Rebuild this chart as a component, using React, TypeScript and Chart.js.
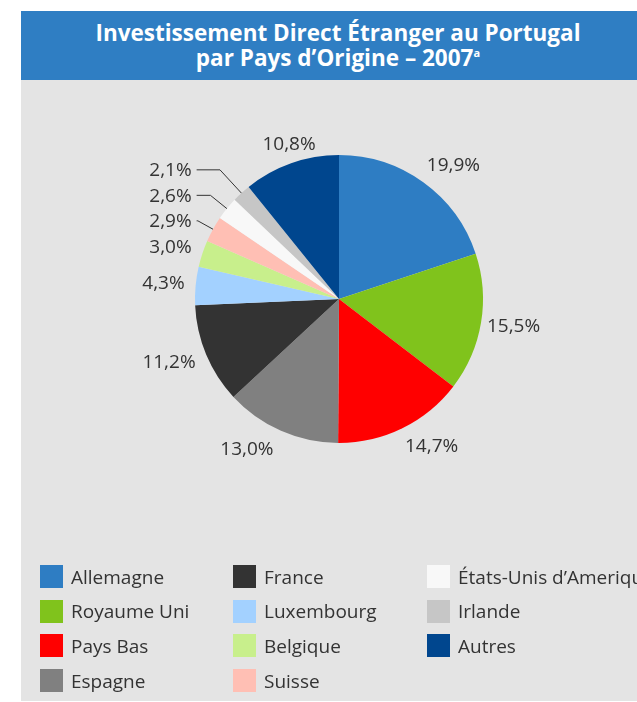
import React, { useEffect, useRef } from 'react';
import { Chart, registerables } from 'chart.js';

Chart.register(...registerables);

const categories = [
  'Allemagne',
  'Royaume Uni',
  'Pays Bas',
  'Espagne',
  'France',
  'Luxembourg',
  'Belgique',
  'Suisse',
  'États-Unis d’Amerique',
  'Irlande',
  'Autres',
];
const shares = [19.9, 15.5, 14.7, 13.0, 11.2, 4.3, 3.0, 2.9, 2.6, 2.1, 10.8];
const sliceColors = [
  '#2e7dc3',
  '#80c31c',
  '#ff0000',
  '#808080',
  '#333333',
  '#a3d1ff',
  '#c8ef8c',
  '#ffbfb4',
  '#f8f8f8',
  '#c6c6c6',
  '#00468e',
];
const leaderLabelled = ['Suisse', 'États-Unis d’Amerique', 'Irlande'];
const titleLine1 = 'Investissement Direct Étranger au Portugal';
const titleLine2 = 'par Pays d’Origine – 2007';
const titleNote = 'a';

const fmt = (v: number) => v.toFixed(1).replace('.', ',') + '%';

const labelPlugin = {
  id: 'sliceLabels',
  afterDatasetsDraw(chart: any) {
    const ctx = chart.ctx as CanvasRenderingContext2D;
    const meta = chart.getDatasetMeta(0);
    ctx.save();
    ctx.font = '19px "Open Sans"';
    ctx.fillStyle = '#333333';
    ctx.strokeStyle = '#333333';
    ctx.lineWidth = 1;
    ctx.textBaseline = 'middle';
    let prev: { right: number; y: number } | null = null;
    meta.data.forEach((arc: any, i: number) => {
      const { x, y, startAngle, endAngle, outerRadius } = arc.getProps(
        ['x', 'y', 'startAngle', 'endAngle', 'outerRadius'],
        true
      );
      const mid = (startAngle + endAngle) / 2;
      const c = Math.cos(mid);
      const s = Math.sin(mid);
      const text = fmt(shares[i]);
      if (leaderLabelled.includes(categories[i]) && prev) {
        const ty = prev.y - 25.5;
        const right = prev.right;
        const ex = x + c * outerRadius;
        const ey = y + s * outerRadius;
        const ly = ty - 1;
        const t = (ly - ey) / s;
        const bx = ex + c * t;
        const lineEnd = right + 5;
        ctx.beginPath();
        ctx.moveTo(ex, ey);
        ctx.lineTo(bx, ly);
        if (bx > lineEnd) ctx.lineTo(lineEnd, ly);
        ctx.stroke();
        ctx.textAlign = 'right';
        ctx.fillText(text, right, ty);
        prev = { right, y: ty };
        return;
      }
      const R = outerRadius + 6;
      const ax = x + c * R;
      const ay = y + s * R;
      const ty = ay + s * 14;
      let tx = ax;
      let align: CanvasTextAlign = 'center';
      if (c > 0.35) {
        align = 'left';
        tx = ax;
      } else if (c < -0.35) {
        align = 'right';
        tx = ax - 5;
      }
      ctx.textAlign = align;
      ctx.fillText(text, tx, ty);
      prev = { right: tx, y: ty };
    });
    ctx.restore();
  },
};

export default function App() {
  const canvasRef = useRef<HTMLCanvasElement | null>(null);

  useEffect(() => {
    if (!canvasRef.current) return;
    const chart = new Chart(canvasRef.current, {
      type: 'pie',
      data: {
        labels: categories,
        datasets: [
          {
            data: shares,
            backgroundColor: sliceColors,
            borderWidth: 0,
          },
        ],
      },
      options: {
        responsive: false,
        animation: false,
        events: [],
        layout: { padding: { top: 155, bottom: 259, left: 195, right: 154 } },
        plugins: {
          legend: { display: false },
          tooltip: { enabled: false },
          title: { display: false },
        },
      },
      plugins: [labelPlugin],
    });
    return () => chart.destroy();
  }, []);

  return (
    <div
      style={{
        position: 'fixed',
        left: 0,
        top: 0,
        width: 637,
        height: 702,
        background: '#ffffff',
        overflow: 'hidden',
        fontFamily: '"Open Sans", sans-serif',
      }}
    >
      <div
        style={{
          position: 'absolute',
          left: 21,
          top: 11,
          width: 616,
          height: 69,
          background: '#2f7ec3',
        }}
      />
      <div
        style={{
          position: 'absolute',
          left: 21,
          top: 80,
          width: 616,
          height: 621,
          background: '#e4e4e4',
        }}
      />
      <div
        style={{
          position: 'absolute',
          left: 21,
          top: 20,
          width: 634,
          textAlign: 'center',
          color: '#ffffff',
          fontWeight: 700,
          fontSize: 22.5,
          lineHeight: '25px',
          whiteSpace: 'nowrap',
        }}
      >
        <div>{titleLine1}</div>
        <div>
          {titleLine2}
          <sup style={{ fontSize: 11, verticalAlign: 'top', lineHeight: '16px' }}>{titleNote}</sup>
        </div>
      </div>
      <canvas
        ref={canvasRef}
        width={637}
        height={702}
        style={{ position: 'absolute', left: 0, top: 0, width: 637, height: 702 }}
      />
      <div
        style={{
          position: 'absolute',
          left: 40,
          top: 565,
          display: 'grid',
          gridTemplateRows: 'repeat(4, 34.7px)',
          gridAutoFlow: 'column',
          gridTemplateColumns: '193px 194px 220px',
        }}
      >
        {categories.map((name, i) => (
          <div
            key={name}
            style={{ display: 'flex', alignItems: 'center', height: 23, alignSelf: 'start' }}
          >
            <span
              style={{
                display: 'inline-block',
                width: 23,
                height: 23,
                background: sliceColors[i],
                flex: '0 0 auto',
              }}
            />
            <span
              style={{
                marginLeft: 8,
                fontSize: 19,
                color: '#333333',
                whiteSpace: 'nowrap',
              }}
            >
              {name}
            </span>
          </div>
        ))}
      </div>
    </div>
  );
}
